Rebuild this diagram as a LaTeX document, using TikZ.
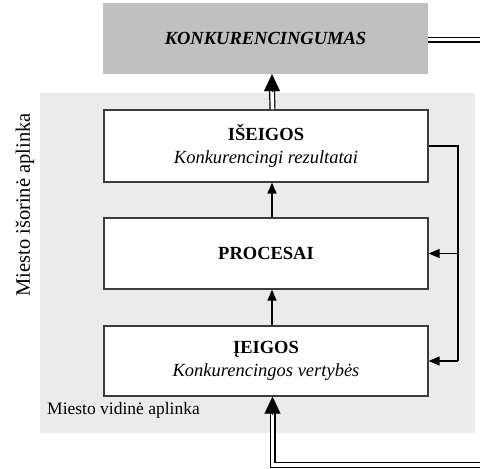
\documentclass[tikz,border=0pt]{standalone}
\usepackage{fontspec}
\setmainfont{Liberation Serif}
\usetikzlibrary{arrows.meta}
\definecolor{panelgray}{RGB}{235,235,235}
\definecolor{headgray}{RGB}{192,192,192}
\definecolor{edgegray}{RGB}{60,60,60}
\begin{document}
\begin{tikzpicture}[x=1pt,y=-1pt,
  stage/.style={draw=edgegray,line width=1.3pt,fill=white,minimum width=324pt,
    align=center,font=\fontsize{18.5}{23}\selectfont},
  head/.style={fill=headgray,minimum width=325pt,minimum height=71pt,
    font=\fontsize{18.5}{22}\selectfont\bfseries\itshape},
  flow/.style={line width=1.6pt,-{Triangle[length=11pt,width=9pt]}},
  feed/.style={line width=1.6pt},
  dbl/.style={double=white,double distance=3.6pt,line width=1.2pt},
  bigtip/.style={line width=0.1pt,-{Triangle[length=17pt,width=16pt]}},
]
\useasboundingbox (0,0) rectangle (480,469);
% internal environment panel
\fill[panelgray] (40,93) rectangle (475,433);
% header box
\node[head] (top) at (265.5,38.5) {KONKURENCINGUMAS};
% process chain
\node[stage,minimum height=72pt] (out) at (266,146) {\textbf{IŠEIGOS}\\\textit{Konkurencingi rezultatai}};
\node[stage,minimum height=71pt] (proc) at (266,253.5) {\textbf{PROCESAI}};
\node[stage,minimum height=70pt] (in) at (266,361) {\textbf{ĮEIGOS}\\\textit{Konkurencingos vertybės}};
% labels
\node[rotate=90,font=\fontsize{20.5}{24}\selectfont] (outer) at (25,205) {Miesto išorinė aplinka};
\node[anchor=base west,font=\fontsize{17.5}{21}\selectfont,inner sep=0pt] (inner) at (47,414) {Miesto vidinė aplinka};
% connectors between stages
\draw[flow] ([xshift=6pt]proc.north) -- ([xshift=6pt]out.south);
\draw[flow] ([xshift=6pt]in.north) -- ([xshift=6pt]proc.south);
% feedback loop
\coordinate (fb) at (458,0);
\draw[feed] (out.east) -- (out.east -| fb) -- (in.east -| fb);
\draw[flow] (in.east -| fb) -- (in.east);
\draw[flow] (proc.east -| fb) -- (proc.east);
% output to header
\draw[dbl] ([xshift=6.5pt]out.north) -- ([xshift=6.5pt,yshift=-16pt]top.south);
\draw[bigtip] ([xshift=6.5pt,yshift=-17pt]top.south) -- ([xshift=6.5pt]top.south);
% header to the outside
\coordinate (exitR) at (480,39.5);
\draw[dbl] (top.east |- exitR) -- (exitR);
% inflow from the outside
\coordinate (entry) at (480,465);
\draw[dbl] (entry) -| ([xshift=6.5pt,yshift=-16pt]in.south);
\draw[bigtip] ([xshift=6.5pt,yshift=-17pt]in.south) -- ([xshift=6.5pt]in.south);
\end{tikzpicture}
\end{document}
